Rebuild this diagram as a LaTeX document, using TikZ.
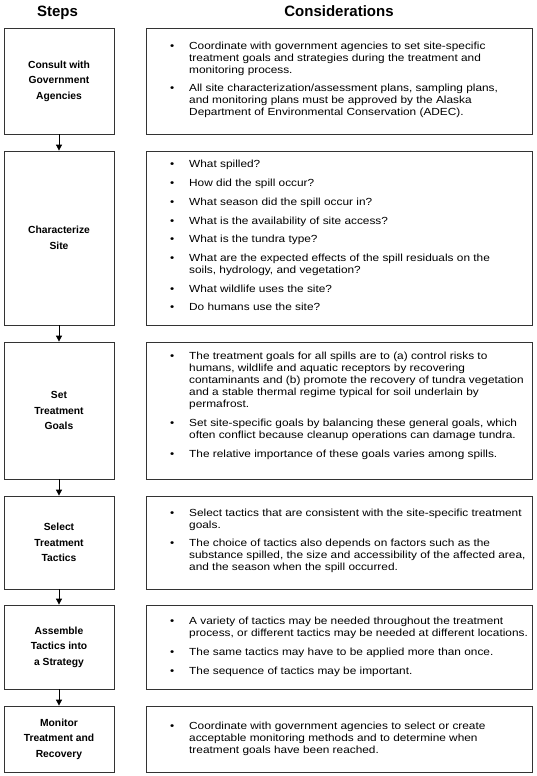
\documentclass[tikz,border=0pt]{standalone}
\usepackage{fontspec}
\setmainfont{Liberation Sans}
\newfontfamily\bodyfont[FakeStretch=1.15]{Liberation Sans}
\usetikzlibrary{arrows.meta}
\tikzset{
  boxline/.style={draw=black!80, line width=0.8pt},
  stepbox/.style={boxline, minimum width=110pt, align=center, inner sep=0pt,
    font=\fontsize{10.3}{15.5}\selectfont\bfseries},
  considbox/.style={boxline, minimum width=386pt, inner sep=0pt},
  listtext/.style={inner sep=0pt, anchor=west, font=\bodyfont\fontsize{10.3}{12}\selectfont},
  hdr/.style={inner sep=0pt, anchor=base, font=\fontsize{15}{18}\selectfont\bfseries},
  flowarrow/.style={draw=black, line width=0.8pt, -{Triangle[width=6pt,length=6pt]}},
}
\newcommand{\bul}{\textbullet}
\newcommand{\gap}{\\[6.7pt]}
\begin{document}
\begin{tikzpicture}[x=1pt, y=-1pt]
\useasboundingbox (0,0) rectangle (536,776);

% headers
\node[hdr] (hsteps) at (57.5,17) {Steps};
\node[hdr] (hcons) at (339,17) {Considerations};

% step boxes
\node[stepbox, minimum height=106pt] (s1) at (59,81) {Consult with\\Government\\Agencies};
\node[stepbox, minimum height=174pt] (s2) at (59,238) {Characterize\\Site};
\node[stepbox, minimum height=137pt] (s3) at (59,410.5) {Set\\Treatment\\Goals};
\node[stepbox, minimum height=93pt] (s4) at (59,542.5) {Select\\Treatment\\Tactics};
\node[stepbox, minimum height=84pt] (s5) at (59,647) {Assemble\\Tactics into\\a Strategy};
\node[stepbox, minimum height=66pt] (s6) at (59,739) {Monitor\\Treatment and\\Recovery};

% consideration boxes
\node[considbox, minimum height=106pt] (k1) at (339,81) {};
\node[considbox, minimum height=174pt] (k2) at (339,238) {};
\node[considbox, minimum height=137pt] (k3) at (339,410.5) {};
\node[considbox, minimum height=93pt] (k4) at (339,542.5) {};
\node[considbox, minimum height=84pt] (k5) at (339,647) {};
\node[considbox, minimum height=66pt] (k6) at (339,739) {};

% consideration texts
\node[listtext] (t1) at (170,80) {\begin{tabular}{@{}p{19pt}@{}l@{}}
\bul & Coordinate with government agencies to set site-specific\\
 & treatment goals and strategies during the treatment and\\
 & monitoring process.\gap
\bul & All site characterization/assessment plans, sampling plans,\\
 & and monitoring plans must be approved by the Alaska\\
 & Department of Environmental Conservation (ADEC).
\end{tabular}};

\node[listtext] (t2) at (170,237) {\begin{tabular}{@{}p{19pt}@{}l@{}}
\bul & What spilled?\gap
\bul & How did the spill occur?\gap
\bul & What season did the spill occur in?\gap
\bul & What is the availability of site access?\gap
\bul & What is the tundra type?\gap
\bul & What are the expected effects of the spill residuals on the\\
 & soils, hydrology, and vegetation?\gap
\bul & What wildlife uses the site?\gap
\bul & Do humans use the site?
\end{tabular}};

\node[listtext] (t3) at (170,406) {\begin{tabular}{@{}p{19pt}@{}l@{}}
\bul & The treatment goals for all spills are to (a) control risks to\\
 & humans, wildlife and aquatic receptors by recovering\\
 & contaminants and (b) promote the recovery of tundra vegetation\\
 & and a stable thermal regime typical for soil underlain by\\
 & permafrost.\gap
\bul & Set site-specific goals by balancing these general goals, which\\
 & often conflict because cleanup operations can damage tundra.\gap
\bul & The relative importance of these goals varies among spills.
\end{tabular}};

\node[listtext] (t4) at (170,541) {\begin{tabular}{@{}p{19pt}@{}l@{}}
\bul & Select tactics that are consistent with the site-specific treatment\\
 & goals.\gap
\bul & The choice of tactics also depends on factors such as the\\
 & substance spilled, the size and accessibility of the affected area,\\
 & and the season when the spill occurred.
\end{tabular}};

\node[listtext] (t5) at (170,647) {\begin{tabular}{@{}p{19pt}@{}l@{}}
\bul & A variety of tactics may be needed throughout the treatment\\
 & process, or different tactics may be needed at different locations.\gap
\bul & The same tactics may have to be applied more than once.\gap
\bul & The sequence of tactics may be important.
\end{tabular}};

\node[listtext] (t6) at (170,739) {\begin{tabular}{@{}p{19pt}@{}l@{}}
\bul & Coordinate with government agencies to select or create\\
 & acceptable monitoring methods and to determine when\\
 & treatment goals have been reached.
\end{tabular}};

% arrows
\draw[flowarrow] (s1.south) -- (s2.north);
\draw[flowarrow] (s2.south) -- (s3.north);
\draw[flowarrow] (s3.south) -- (s4.north);
\draw[flowarrow] (s4.south) -- (s5.north);
\draw[flowarrow] (s5.south) -- (s6.north);
\end{tikzpicture}
\end{document}
